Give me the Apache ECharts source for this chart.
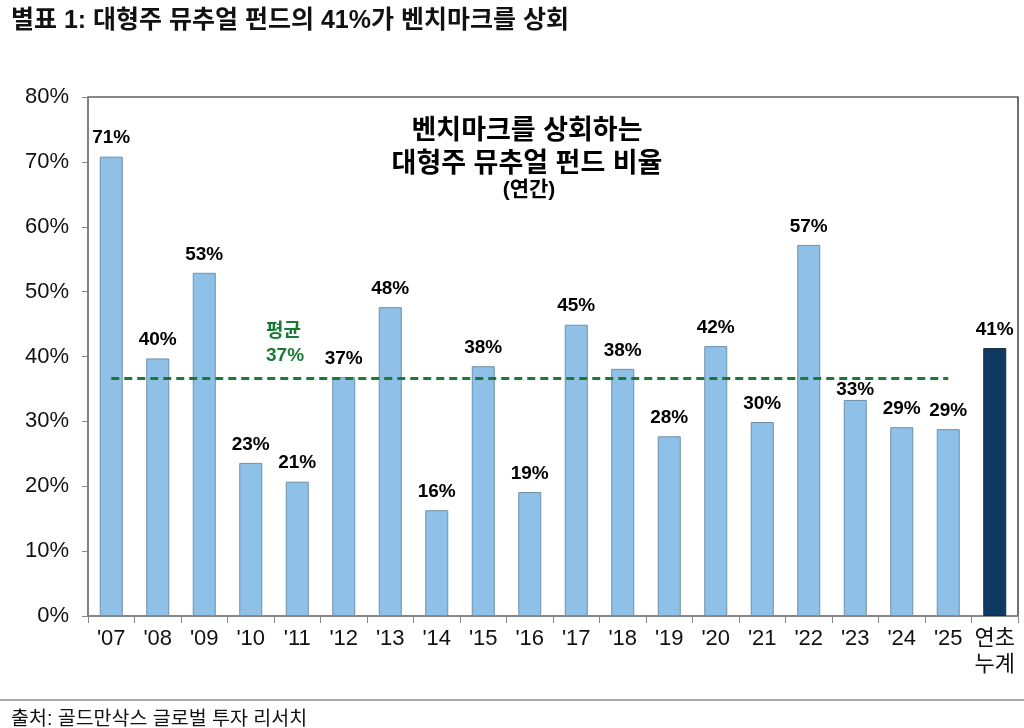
<!DOCTYPE html>
<html>
<head>
<meta charset="utf-8">
<script src="https://cdn.jsdelivr.net/npm/echarts@6/dist/echarts.min.js"></script>
<style>
  html, body { margin: 0; padding: 0; background: #fff; }
  #chart { width: 1024px; height: 728px; }
</style>
</head>
<body>
<div id="chart"></div>
<script>
var FONT = '"Liberation Sans", Arial, "Noto Sans CJK KR", sans-serif';

// 연도별 값 (%)
var categories = ["'07", "'08", "'09", "'10", "'11", "'12", "'13", "'14", "'15", "'16",
  "'17", "'18", "'19", "'20", "'21", "'22", "'23", "'24", "'25", "연초\n누계"];
var values = [70.8, 39.7, 52.9, 23.6, 20.7, 36.8, 47.6, 16.3, 38.5, 19.1,
  44.9, 38.1, 27.7, 41.6, 29.9, 57.2, 33.3, 29.1, 28.8, 41.3];
var labels = ['71%', '40%', '53%', '23%', '21%', '37%', '48%', '16%', '38%', '19%',
  '45%', '38%', '28%', '42%', '30%', '57%', '33%', '29%', '29%', '41%'];
var average = 36.7;
var yTicks = [0, 10, 20, 30, 40, 50, 60, 70, 80];

var chart = echarts.init(document.getElementById('chart'));

var barData = values.map(function (v, i) {
  var last = i === values.length - 1;
  var item = {
    value: v,
    itemStyle: {
      color: last ? '#0d3a63' : '#8fc0e8',
      borderColor: last ? '#1a2a3a' : '#6f8fa8',
      borderWidth: 1
    }
  };
  // '23 라벨은 평균선 아래로 붙여서 표시
  if (i === 16) item.label = { distance: 1 };
  return item;
});

var option = {
  animation: false,
  textStyle: { fontFamily: FONT },
  title: [
    {
      text: '별표 1: 대형주 뮤추얼 펀드의 41%가 벤치마크를 상회',
      left: 6, top: 4,
      textStyle: { fontSize: 25, fontWeight: 'bold', color: '#111', fontFamily: FONT }
    },
    {
      text: '벤치마크를 상회하는\n대형주 뮤추얼 펀드 비율',
      left: 522, top: 110, textAlign: 'center',
      textStyle: { fontSize: 27, fontWeight: 'bold', color: '#000', lineHeight: 33, fontFamily: FONT }
    },
    {
      text: '(연간)',
      left: 524, top: 175, textAlign: 'center',
      textStyle: { fontSize: 21, fontWeight: 'bold', color: '#000', fontFamily: FONT }
    },
    {
      text: '출처: 골드만삭스 글로벌 투자 리서치',
      left: 6, top: 705,
      textStyle: { fontSize: 19.5, fontWeight: 'normal', color: '#111', fontFamily: FONT }
    }
  ],
  grid: {
    left: 88, right: 6, top: 97, bottom: 112,
    show: true, borderColor: '#111', borderWidth: 1.2, backgroundColor: '#fff'
  },
  xAxis: {
    type: 'category',
    data: categories,
    axisLine: { lineStyle: { color: '#888', width: 1.5 } },
    axisTick: { show: true, length: 7, lineStyle: { color: '#888' } },
    axisLabel: { color: '#111', fontSize: 22, margin: 10, lineHeight: 26, interval: 0, fontFamily: FONT }
  },
  yAxis: {
    type: 'value',
    min: 0, max: 80, interval: 10,
    axisLine: { show: true, lineStyle: { color: '#888', width: 1.5 } },
    axisTick: { show: true, length: 6, lineStyle: { color: '#888' } },
    splitLine: { show: false },
    axisLabel: {
      color: '#111', fontSize: 22, margin: 19, fontFamily: FONT,
      formatter: function (v) { return yTicks.indexOf(v) >= 0 ? v + '%' : ''; }
    }
  },
  graphic: [
    {
      type: 'line',
      shape: { x1: 0, y1: 700, x2: 1024, y2: 700 },
      style: { stroke: '#aaa', lineWidth: 2 }
    },
    {
      type: 'text', left: 266, top: 320,
      style: {
        text: '평균\n37%', fill: '#1a7a35', fontSize: 19, fontWeight: 'bold',
        lineHeight: 24, align: 'center', fontFamily: FONT
      }
    }
  ],
  series: [
    {
      type: 'bar',
      data: barData,
      barWidth: 23,
      label: {
        show: true, position: 'top', distance: 9,
        color: '#000', fontSize: 19, fontWeight: 'bold', fontFamily: FONT,
        formatter: function (p) { return labels[p.dataIndex]; }
      },
      markLine: {
        silent: true,
        symbol: 'none',
        label: { show: false },
        lineStyle: { color: '#1a7a35', type: [8, 5], width: 3 },
        data: [[
          { coord: [categories[0], average] },
          { coord: [categories[18], average] }
        ]]
      }
    }
  ]
};

chart.setOption(option);
</script>
</body>
</html>
